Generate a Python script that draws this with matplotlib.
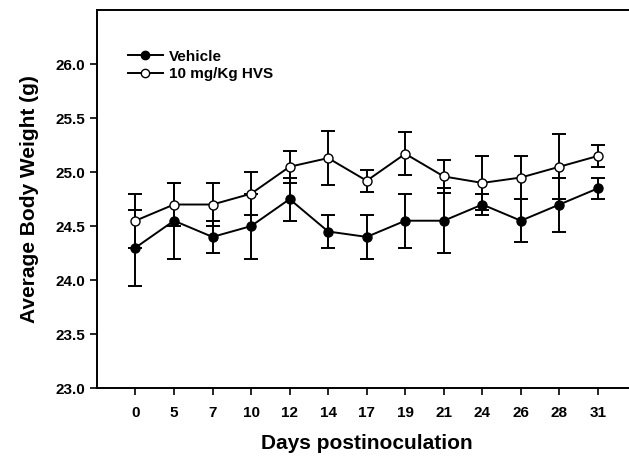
import numpy as np
import matplotlib
matplotlib.use("Agg")
import matplotlib.pyplot as plt
from matplotlib.lines import Line2D

plt.rcParams['font.family'] = ['Liberation Sans', 'DejaVu Sans']
plt.rcParams['font.weight'] = 'bold'

# datos
days = ["0", "5", "7", "10", "12", "14", "17", "19", "21", "24", "26", "28", "31"]
vehicle = [24.30, 24.55, 24.40, 24.50, 24.75, 24.45, 24.40, 24.55, 24.55, 24.70, 24.55, 24.70, 24.85]
vehicle_err = [0.35, 0.35, 0.15, 0.30, 0.20, 0.15, 0.20, 0.25, 0.30, 0.10, 0.20, 0.25, 0.10]
hvs = [24.55, 24.70, 24.70, 24.80, 25.05, 25.13, 24.92, 25.17, 24.96, 24.90, 24.95, 25.05, 25.15]
hvs_err = [0.25, 0.20, 0.20, 0.20, 0.15, 0.25, 0.10, 0.20, 0.15, 0.25, 0.20, 0.30, 0.10]
yticks = [23.0, 23.5, 24.0, 24.5, 25.0, 25.5, 26.0]

x = np.arange(len(days))

fig = plt.figure(figsize=(6.29, 4.62), dpi=100)
ax = fig.add_axes([0.154, 0.160, 0.858, 0.818])

ax.errorbar(x, vehicle, yerr=vehicle_err, color='black', marker='o', markersize=6.5,
            markerfacecolor='black', markeredgecolor='black', lw=1.4, elinewidth=1.4,
            capsize=5, capthick=1.4, zorder=2)
ax.errorbar(x, hvs, yerr=hvs_err, color='black', marker='o', markersize=6.5,
            markerfacecolor='white', markeredgecolor='black', lw=1.4, elinewidth=1.4,
            capsize=5, capthick=1.4, zorder=3)

ax.set_xlim(-1, 13)
ax.set_ylim(23.0, 26.5)
ax.set_xticks(x)
ax.set_xticklabels(days)
ax.set_yticks(yticks)
ax.set_yticklabels([f"{v:.1f}" for v in yticks])
ax.tick_params(axis='both', direction='out', length=5, width=1.2, labelsize=11)
ax.tick_params(axis='x', pad=8)
for s in ax.spines.values():
    s.set_linewidth(1.4)

ax.set_xlabel('Days postinoculation', fontsize=15, fontweight='bold', labelpad=10)
ax.set_ylabel('Average Body Weight (g)', fontsize=15, fontweight='bold', labelpad=12)

# leyenda solo con linea y marcador
handles = [
    Line2D([], [], color='black', lw=1.4, marker='o', markersize=6,
           markerfacecolor='black', markeredgecolor='black'),
    Line2D([], [], color='black', lw=1.4, marker='o', markersize=6,
           markerfacecolor='white', markeredgecolor='black'),
]
leg = ax.legend(handles, ['Vehicle', '10 mg/Kg HVS'], loc='upper left',
                bbox_to_anchor=(0.057, 0.895), borderaxespad=0, borderpad=0,
                frameon=False, fontsize=11, handlelength=2.3, handletextpad=0.4,
                labelspacing=0.2)
for t in leg.get_texts():
    t.set_fontweight('bold')

fig.savefig('out.png', dpi=100)
